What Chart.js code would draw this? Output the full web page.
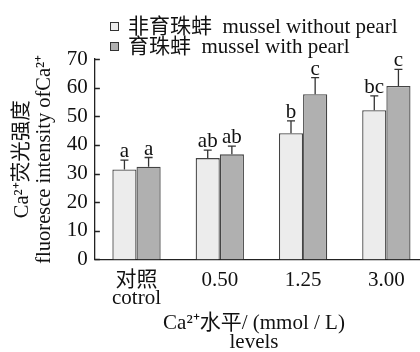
<!DOCTYPE html>
<html lang="zh">
<head>
<meta charset="UTF-8">
<title>Ca2+ 荧光强度</title>
<script src="https://cdn.jsdelivr.net/npm/chart.js"></script>
<style>
  body { margin: 0; width: 420px; height: 352px; overflow: hidden; background: #fff; position: relative;
         font-family: 'Liberation Serif', 'Noto Sans CJK SC', serif; color: #111; }
  .wrap { position: absolute; left: 0; top: 0; width: 428px; height: 352px; }
  .legend { position: absolute; left: 110px; top: 16px; font-size: 21px; line-height: 20px; }
  .legend div { white-space: nowrap; }
  .box { display: inline-block; width: 7px; height: 7px; border: 1px solid #333; margin-right: 9px; vertical-align: 2px; }
  .xtitle { position: absolute; left: 0; width: 508px; top: 313px; text-align: center; font-size: 21px; line-height: 19px; }
</style>
</head>
<body>
  <div class="wrap"><canvas id="chart"></canvas></div>

  <div class="legend">
    <div><span class="box" style="background:#ececec"></span>非育珠蚌&nbsp; mussel without pearl</div>
    <div><span class="box" style="background:#b0b0b0"></span>育珠蚌&nbsp; mussel with pearl</div>
  </div>
  <div class="xtitle">Ca²⁺水平/ (mmol / L)<br>levels</div>

<script>
  // data
  const levels = [['对照', 'cotrol'], '0.50', '1.25', '3.00'];
  const withoutPearl = [31.4, 35.4, 44.1, 52.1];
  const withPearl = [32.4, 36.7, 57.7, 60.6];
  const withoutErr = [3.3, 2.8, 4.3, 5.0];
  const withErr = [3.2, 2.9, 5.8, 5.8];
  const withoutLetters = ['a', 'ab', 'b', 'bc'];
  const withLetters = ['a', 'ab', 'c', 'c'];
  const yTicks = [0, 10, 20, 30, 40, 50, 60, 70];

  const serif = "'Liberation Serif', 'Noto Sans CJK SC', serif";
  const errs = [withoutErr, withErr];
  const letters = [withoutLetters, withLetters];

  // error bars + significance letters
  const errorBars = {
    id: 'errorBars',
    afterDatasetsDraw(chart) {
      const ctx = chart.ctx;
      const y = chart.scales.y;
      chart.data.datasets.forEach((ds, di) => {
        chart.getDatasetMeta(di).data.forEach((bar, i) => {
          const top = y.getPixelForValue(ds.data[i] + errs[di][i]);
          ctx.save();
          ctx.strokeStyle = '#333';
          ctx.lineWidth = 1.3;
          ctx.beginPath();
          ctx.moveTo(bar.x, bar.y);
          ctx.lineTo(bar.x, top);
          ctx.moveTo(bar.x - 4, top);
          ctx.lineTo(bar.x + 4, top);
          ctx.stroke();
          ctx.fillStyle = '#111';
          ctx.font = '21px ' + serif;
          ctx.textAlign = 'center';
          ctx.textBaseline = 'alphabetic';
          ctx.fillText(letters[di][i], bar.x, top - 3);
          ctx.restore();
        });
      });
    }
  };

  // short inward ticks on the y axis
  const innerTicks = {
    id: 'innerTicks',
    afterDraw(chart) {
      const ctx = chart.ctx;
      const y = chart.scales.y;
      const left = chart.chartArea.left;
      ctx.save();
      ctx.strokeStyle = '#222';
      ctx.lineWidth = 1.3;
      ctx.beginPath();
      yTicks.forEach(v => {
        const py = Math.round(y.getPixelForValue(v)) + 0.5;
        ctx.moveTo(left, py);
        ctx.lineTo(left + 5, py);
      });
      ctx.stroke();
      ctx.restore();
    }
  };

  new Chart(document.getElementById('chart'), {
    type: 'bar',
    data: {
      labels: levels,
      datasets: [
        {
          label: '非育珠蚌 mussel without pearl',
          data: withoutPearl,
          backgroundColor: '#ececec',
          borderColor: '#444',
          borderWidth: 1.3
        },
        {
          label: '育珠蚌 mussel with pearl',
          data: withPearl,
          backgroundColor: '#b0b0b0',
          borderColor: '#444',
          borderWidth: 1.3
        }
      ]
    },
    options: {
      responsive: true,
      maintainAspectRatio: false,
      animation: false,
      layout: { padding: { left: 12, top: 59, right: 0, bottom: 32 } },
      plugins: {
        legend: { display: false },
        tooltip: { enabled: false }
      },
      datasets: { bar: { barPercentage: 1, categoryPercentage: 0.58 } },
      scales: {
        x: {
          grid: { display: false, drawTicks: false },
          border: { display: true, color: '#222', width: 1.3 },
          ticks: { color: '#111', padding: 12, font: { family: serif, size: 21, lineHeight: 0.87 } }
        },
        y: {
          min: 0,
          max: 70,
          afterBuildTicks(axis) { axis.ticks = yTicks.map(v => ({ value: v })); },
          grid: { display: false, drawTicks: false },
          border: { display: true, color: '#222', width: 1.3 },
          ticks: { color: '#111', padding: 7, autoSkip: false, font: { family: serif, size: 21 } },
          title: {
            display: true,
            text: ['Ca²⁺荧光强度', 'fluoresce intensity ofCa²⁺'],
            color: '#111',
            font: { family: serif, size: 20.5, lineHeight: 1.07 },
            padding: { top: 0, bottom: 4 }
          }
        }
      }
    },
    plugins: [errorBars, innerTicks]
  });
</script>
</body>
</html>
